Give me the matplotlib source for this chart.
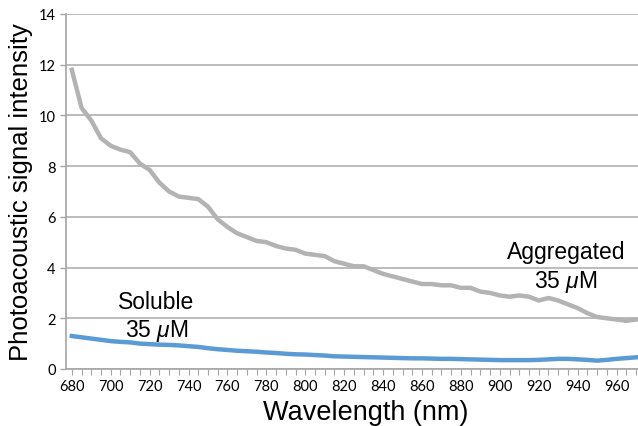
import matplotlib
matplotlib.use("Agg")
import matplotlib.pyplot as plt
from matplotlib.ticker import MultipleLocator

plt.rcParams['font.family'] = ['Liberation Sans', 'DejaVu Sans']
plt.rcParams['mathtext.fontset'] = 'custom'
plt.rcParams['mathtext.rm'] = 'Liberation Sans'
plt.rcParams['mathtext.it'] = 'Liberation Sans:italic'

# wavelengths, every 5 nm
wavelength = list(range(680, 975, 5))

aggregated = [11.8, 10.3, 9.8, 9.1, 8.8, 8.65, 8.55, 8.1, 7.85, 7.35,
              7.0, 6.8, 6.75, 6.7, 6.4, 5.9, 5.6, 5.35, 5.2, 5.05,
              5.0, 4.85, 4.75, 4.7, 4.55, 4.5, 4.45, 4.25, 4.15, 4.05,
              4.05, 3.9, 3.75, 3.65, 3.55, 3.45, 3.35, 3.35, 3.3, 3.3,
              3.2, 3.2, 3.05, 3.0, 2.9, 2.85, 2.9, 2.85, 2.7, 2.8,
              2.7, 2.55, 2.4, 2.2, 2.05, 2.0, 1.95, 1.9, 1.95]

soluble = [1.3, 1.25, 1.2, 1.15, 1.1, 1.07, 1.05, 1.0, 0.98, 0.96,
           0.95, 0.93, 0.9, 0.87, 0.82, 0.78, 0.75, 0.72, 0.7, 0.68,
           0.65, 0.63, 0.6, 0.58, 0.57, 0.55, 0.53, 0.5, 0.49, 0.48,
           0.47, 0.46, 0.45, 0.44, 0.43, 0.42, 0.42, 0.41, 0.4, 0.4,
           0.39, 0.38, 0.37, 0.36, 0.35, 0.35, 0.35, 0.35, 0.36, 0.38,
           0.4, 0.4, 0.38, 0.36, 0.33, 0.36, 0.4, 0.43, 0.46]

fig = plt.figure(figsize=(6.38, 4.27), dpi=100)
ax = fig.add_axes([0.1034, 0.1335, 0.8966, 0.8315])

ax.plot(wavelength, aggregated, color='#b3b3b3', lw=3.2, solid_joinstyle='round')
ax.plot(wavelength, soluble, color='#5b9bd5', lw=3.2, solid_joinstyle='round')

ax.set_xlim(677, 971)
ax.set_ylim(0, 14)
ax.yaxis.set_major_locator(MultipleLocator(2))
ax.xaxis.set_major_locator(MultipleLocator(20))
ax.xaxis.set_minor_locator(MultipleLocator(5))
ax.grid(axis='y', color='#b0b0b0', lw=1.2)
ax.set_axisbelow(True)

for s in ['top', 'right']:
    ax.spines[s].set_visible(False)
for s in ['left', 'bottom']:
    ax.spines[s].set_color('#a6a6a6')
    ax.spines[s].set_linewidth(1.2)

ax.tick_params(axis='both', which='both', color='#a6a6a6', direction='out')
ax.tick_params(axis='x', which='both', length=4, width=0.8)
ax.tick_params(axis='y', length=4, width=1)
for lab in ax.get_xticklabels() + ax.get_yticklabels():
    lab.set_family(['Lato', 'DejaVu Sans'])
    lab.set_fontsize(10.5)

ax.set_xlabel('Wavelength (nm)', fontsize=19.5, labelpad=4)
ax.xaxis.label.set_x(0.5245)
ax.set_ylabel('Photoacoustic signal intensity', fontsize=18.5, labelpad=4)

ax.text(723.5, 2.07, 'Soluble\n35 $\\mu$M', fontsize=16.5, ha='center', va='center',
        linespacing=1.25)
ax.text(934, 4.02, 'Aggregated\n35 $\\mu$M', fontsize=16.5, ha='center', va='center',
        linespacing=1.25)

fig.savefig('out.png', dpi=100)
